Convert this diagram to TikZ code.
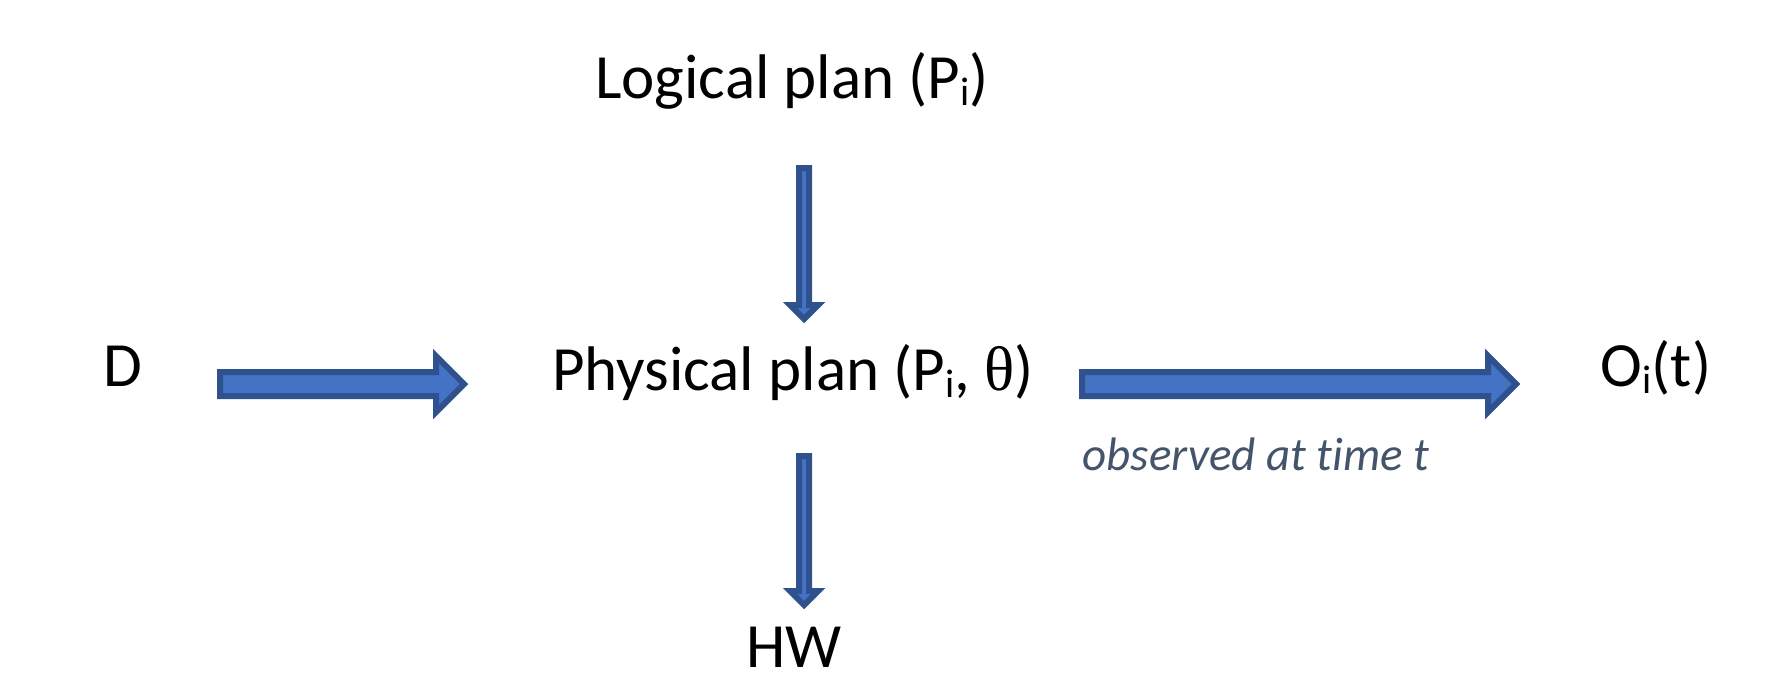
\documentclass[tikz,border=0pt]{standalone}
\usepackage{fontspec}
\setmainfont{Carlito}[Ligatures=NoCommon]
\newfontfamily\thetafont{Liberation Serif}
\definecolor{arrowfill}{HTML}{4472C4}
\definecolor{arrowline}{HTML}{2F528F}
\definecolor{notecol}{HTML}{44546A}
\newcommand{\subi}{\raisebox{-7pt}{\fontsize{40}{40}\selectfont i}}
\tikzset{
  label/.style={inner sep=0pt, anchor=base, font=\fontsize{63}{70}\selectfont, text=black},
  note/.style={inner sep=0pt, anchor=base, font=\fontsize{47}{52}\selectfont\itshape, text=notecol},
  blockarrow/.style={fill=arrowfill, draw=arrowline, line width=6pt, line join=miter},
}
\begin{document}
\begin{tikzpicture}[x=1pt,y=-1pt]
\useasboundingbox[fill=white] (0,0) rectangle (1775,677);

% text nodes
\node[label] (logical) at (792,98) {Logical plan (P\subi)};
\node[label] (physical) at (793,390) {Physical plan (P\subi, {\thetafont θ})};
\node[label] (D) at (123,386) {D};
\node[label] (O) at (1656,386) {O\subi(t)};
\node[label] (HW) at (794,667) {HW};
\node[note] (obs) at (1256,470) {observed at time t};

% block arrows (D -> physical)
\coordinate (a1s) at (220,384);
\draw[blockarrow] (a1s) ++(0,-12) -- (436,372) -- (436,356) -- (464,384)
  -- (436,412) -- (436,396) -- (220,396) -- cycle;
% physical -> O
\coordinate (a2s) at (1082,384);
\draw[blockarrow] (a2s) ++(0,-12) -- (1488,372) -- (1488,356) -- (1516,384)
  -- (1488,412) -- (1488,396) -- (1082,396) -- cycle;
% logical -> physical
\coordinate (a3s) at (804,168);
\draw[blockarrow] (a3s) ++(-5,0) -- (799,305) -- (790,305) -- (804,319)
  -- (818,305) -- (809,305) -- (809,168) -- cycle;
% physical -> HW
\coordinate (a4s) at (804,456);
\draw[blockarrow] (a4s) ++(-5,0) -- (799,591) -- (790,591) -- (804,605)
  -- (818,591) -- (809,591) -- (809,456) -- cycle;
\end{tikzpicture}
\end{document}
